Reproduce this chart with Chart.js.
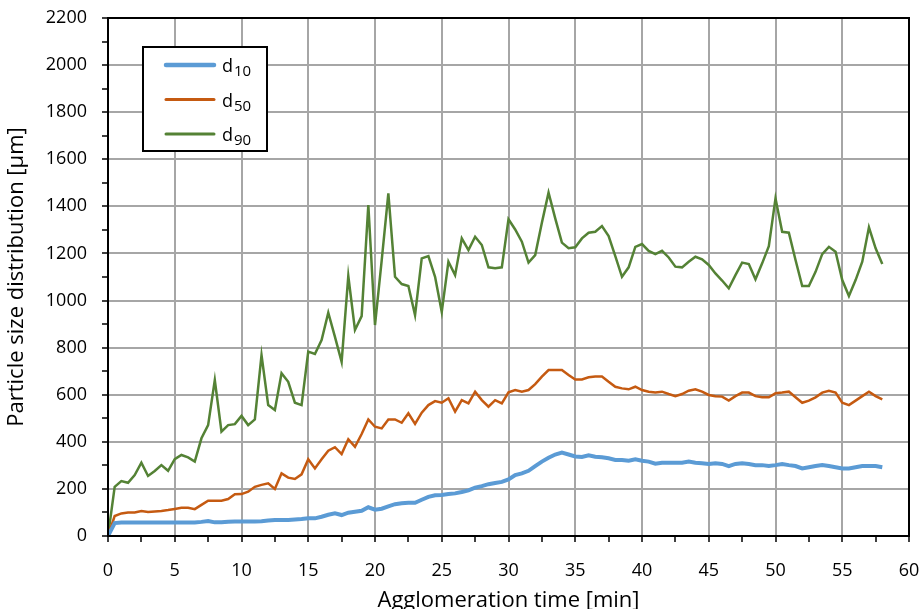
<!DOCTYPE html>
<html>
<head>
<meta charset="utf-8">
<script src="https://cdn.jsdelivr.net/npm/chart.js@4.4.1/dist/chart.umd.min.js"></script>
<style>
  html, body { margin: 0; padding: 0; background: #fff; }
  #wrap { width: 922px; height: 609px; }
</style>
</head>
<body>
<div id="wrap"><canvas id="psdChart" width="922" height="609"></canvas></div>
<script>
// Agglomeration time [min]
const times = [
  0, 0.5, 1, 1.5, 2, 2.5, 3, 3.5, 4, 4.5, 5, 5.5, 6, 6.5, 7, 7.5, 8, 8.5, 9, 9.5,
  10, 10.5, 11, 11.5, 12, 12.5, 13, 13.5, 14, 14.5, 15, 15.5, 16, 16.5, 17, 17.5, 18, 18.5, 19, 19.5,
  20, 20.5, 21, 21.5, 22, 22.5, 23, 23.5, 24, 24.5, 25, 25.5, 26, 26.5, 27, 27.5, 28, 28.5, 29, 29.5,
  30, 30.5, 31, 31.5, 32, 32.5, 33, 33.5, 34, 34.5, 35, 35.5, 36, 36.5, 37, 37.5, 38, 38.5, 39, 39.5,
  40, 40.5, 41, 41.5, 42, 42.5, 43, 43.5, 44, 44.5, 45, 45.5, 46, 46.5, 47, 47.5, 48, 48.5, 49, 49.5,
  50, 50.5, 51, 51.5, 52, 52.5, 53, 53.5, 54, 54.5, 55, 55.5, 56, 56.5, 57, 57.5, 58
];

// particle size [µm]
const d10 = [
  0, 55, 57, 57, 57, 57, 57, 57, 57, 57, 57, 57, 57, 57, 60, 64, 58, 58, 61, 62,
  62, 62, 62, 63, 66, 68, 68, 68, 70, 72, 75, 75, 82, 90, 96, 89, 99, 103, 107, 122,
  112, 116, 126, 135, 139, 141, 141, 154, 166, 173, 174, 178, 181, 187, 194, 205, 212, 220, 225, 230,
  240, 259, 266, 277, 297, 316, 332, 346, 354, 346, 338, 336, 343, 337, 334, 330, 323, 323, 320, 326,
  320, 316, 307, 311, 311, 311, 311, 316, 311, 309, 306, 309, 306, 297, 306, 309, 306, 301, 301, 297,
  301, 306, 301, 297, 287, 292, 297, 301, 297, 292, 287, 287, 292, 297, 297, 297, 292
];

const d50 = [
  0, 85, 96, 100, 100, 106, 102, 104, 106, 110, 115, 120, 120, 114, 132, 150, 150, 150, 157, 177,
  178, 188, 209, 217, 224, 200, 266, 248, 242, 262, 326, 287, 326, 362, 377, 348, 411, 379, 433, 495,
  464, 457, 495, 495, 481, 521, 476, 524, 556, 573, 566, 585, 528, 577, 563, 613, 577, 549, 577, 563,
  610, 620, 613, 620, 645, 677, 705, 705, 705, 684, 665, 665, 674, 677, 677, 655, 634, 627, 623, 634,
  620, 613, 609, 613, 603, 594, 603, 617, 623, 613, 599, 594, 592, 575, 594, 609, 609, 594, 589, 589,
  606, 609, 613, 589, 566, 575, 589, 609, 617, 609, 566, 556, 575, 594, 613, 594, 580
];

const d90 = [
  0, 209, 233, 226, 259, 311, 255, 276, 301, 277, 326, 344, 334, 316, 415, 471, 662, 443, 471, 475,
  510, 471, 495, 768, 556, 535, 691, 655, 566, 556, 783, 773, 832, 948, 846, 740, 1104, 875, 934, 1406,
  896, 1170, 1455, 1101, 1070, 1062, 938, 1179, 1189, 1101, 952, 1165, 1108, 1264, 1214, 1271, 1236, 1141, 1137, 1141,
  1345, 1302, 1250, 1161, 1193, 1330, 1458, 1349, 1246, 1222, 1226, 1264, 1288, 1292, 1316, 1274, 1189, 1101, 1141, 1228,
  1240, 1211, 1197, 1211, 1183, 1144, 1141, 1165, 1186, 1175, 1151, 1115, 1085, 1052, 1108, 1161, 1155, 1090, 1158, 1231,
  1434, 1292, 1288, 1172, 1062, 1062, 1122, 1197, 1228, 1207, 1087, 1019, 1087, 1165, 1311, 1222, 1155
];

const seriesNames = ["d10", "d50", "d90"];
const seriesColors = ["#5B9BD5", "#C55A11", "#548235"];
const seriesWidths = [4, 2.5, 2.5];

const FONT = "'Open Sans', 'DejaVu Sans', sans-serif";

function toPoints(values) {
  return times.map((t, i) => ({ x: t, y: values[i] }));
}

// black frame round the plot area
const frame = {
  id: "frame",
  afterDatasetsDraw(chart) {
    const { ctx, chartArea: a } = chart;
    ctx.save();
    ctx.strokeStyle = "#000";
    ctx.lineWidth = 2;
    ctx.strokeRect(a.left, a.top, a.right - a.left, a.bottom - a.top);
    ctx.restore();
  },
};

// boxed legend with subscripts, like the original
const boxLegend = {
  id: "boxLegend",
  afterDraw(chart) {
    const ctx = chart.ctx;
    const x = 143, y = 47, w = 124, h = 104;
    ctx.save();
    ctx.fillStyle = "#fff";
    ctx.fillRect(x, y, w, h);
    ctx.strokeStyle = "#000";
    ctx.lineWidth = 2;
    ctx.strokeRect(x, y, w, h);
    chart.data.datasets.forEach((ds, i) => {
      const cy = 65 + i * 34.5;
      ctx.strokeStyle = ds.borderColor;
      ctx.lineWidth = i === 0 ? 4.5 : 3;
      ctx.lineCap = "round";
      ctx.beginPath();
      ctx.moveTo(166, cy);
      ctx.lineTo(214, cy);
      ctx.stroke();
      ctx.fillStyle = "#000";
      ctx.textBaseline = "alphabetic";
      ctx.font = "18px " + FONT;
      ctx.fillText(ds.label.charAt(0), 222, cy + 7);
      const dw = ctx.measureText(ds.label.charAt(0)).width;
      ctx.font = "15px " + FONT;
      ctx.fillText(ds.label.slice(1), 222 + dw + 1, cy + 11);
    });
    ctx.restore();
  },
};

new Chart(document.getElementById("psdChart"), {
  type: "line",
  data: {
    datasets: [0, 1, 2].map((k) => ({
      label: seriesNames[k],
      data: toPoints([d10, d50, d90][k]),
      borderColor: seriesColors[k],
      borderWidth: seriesWidths[k],
      pointRadius: 0,
      tension: 0,
      fill: false,
    })),
  },
  options: {
    responsive: false,
    animation: false,
    layout: { padding: { top: 18, right: 13, left: 0, bottom: 0 } },
    plugins: {
      legend: { display: false },
      tooltip: { enabled: false },
    },
    scales: {
      x: {
        type: "linear",
        min: 0,
        max: 60,
        afterFit(scale) {
          scale.height = 73;
          scale.paddingLeft = 0;
          scale.paddingRight = 0;
        },
        ticks: {
          stepSize: 2.5,
          autoSkip: false,
          maxRotation: 0,
          padding: 18,
          color: "#000",
          font: { family: FONT, size: 18 },
          callback: (v) => (v % 5 === 0 ? String(v) : ""),
        },
        grid: {
          color: (c) => (c.tick && c.tick.value % 5 === 0 ? "#A6A6A6" : "rgba(0,0,0,0)"),
          lineWidth: 2,
          tickColor: "#000",
          tickLength: 6,
          tickWidth: 1.5,
        },
        border: { display: false },
        title: {
          display: true,
          text: "Agglomeration time [min]",
          color: "#000",
          font: { family: FONT, size: 22 },
          padding: { top: 0, bottom: -5 },
        },
      },
      y: {
        min: 0,
        max: 2200,
        afterFit(scale) {
          scale.width = 108;
          scale.paddingTop = 0;
          scale.paddingBottom = 0;
        },
        ticks: {
          stepSize: 100,
          autoSkip: false,
          padding: 15,
          color: "#000",
          font: { family: FONT, size: 18 },
          callback: (v) => (v % 200 === 0 ? String(v) : ""),
        },
        grid: {
          color: (c) => (c.tick && c.tick.value % 200 === 0 ? "#A6A6A6" : "rgba(0,0,0,0)"),
          lineWidth: 2,
          tickColor: "#000",
          tickLength: 6,
          tickWidth: 1.5,
        },
        border: { display: false },
        title: {
          display: true,
          text: "Particle size distribution [µm]",
          color: "#000",
          font: { family: FONT, size: 22 },
          padding: { top: 4, bottom: 0 },
        },
      },
    },
  },
  plugins: [frame, boxLegend],
});
</script>
</body>
</html>
